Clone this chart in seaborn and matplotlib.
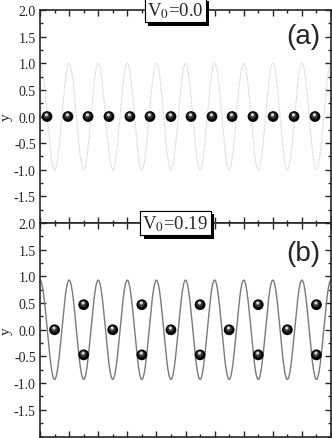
import numpy as np
import pandas as pd
import matplotlib
matplotlib.use("Agg")
import matplotlib.pyplot as plt
import matplotlib.patheffects as pe
from matplotlib.ticker import MultipleLocator, FixedLocator
import seaborn as sns

# potential curves: V(x) = A cos(2 pi x), x in lattice periods
period_count = 10
amp_a = 1.0
amp_b = 0.93

# particle positions, panel (a)
xa = [0.24, 0.96, 1.65, 2.37, 3.09, 3.78, 4.50, 5.19, 5.91, 6.60, 7.32, 8.01, 8.73, 9.45]
ya = [0.0] * len(xa)

# particle positions, panel (b)
xb = [0.5, 1.5, 1.5, 2.5, 3.5, 3.5, 4.5, 5.5, 5.5, 6.5, 7.5, 7.5, 8.5, 9.5, 9.5]
yb = [0.0, 0.47, -0.47, 0.0, 0.47, -0.47, 0.0, 0.47, -0.47, 0.0, 0.47, -0.47, 0.0, 0.47, -0.47]

labels = [r"V$_{\mathrm{0}}$=0.0", r"V$_{\mathrm{0}}$=0.19"]
panel_tags = ["(a)", "(b)"]
ytick_vals = [-1.5, -1.0, -0.5, 0.0, 0.5, 1.0, 1.5, 2.0]
ytick_labels = ["-1.5", "-1.0", "-0.5", "0.0", "0.5", "1.0", "1.5", "2.0"]

sns.set_style("ticks")
plt.rcParams["font.family"] = ["Liberation Serif", "DejaVu Serif"]
plt.rcParams["mathtext.fontset"] = "stix"

fig = plt.figure(figsize=(3.32, 4.39), dpi=100)
ax_a = fig.add_axes([0.1205, 0.4897, 0.8765, 0.4852])
ax_b = fig.add_axes([0.1205, 0.0034, 0.8765, 0.4863])

xc = np.linspace(0, period_count, 2000)
curve_a = pd.DataFrame({"x": xc, "y": amp_a * np.cos(2 * np.pi * xc)})
curve_b = pd.DataFrame({"x": xc, "y": amp_b * np.cos(2 * np.pi * xc)})

sns.lineplot(data=curve_a, x="x", y="y", ax=ax_a, color="#c4cccc", lw=0.8,
             linestyle=(0, (1, 1)))
sns.lineplot(data=curve_b, x="x", y="y", ax=ax_b, color="#7a7a7a", lw=1.0)


def draw_balls(ax, xs, ys):
    pts = pd.DataFrame({"x": xs, "y": ys})
    sns.scatterplot(data=pts, x="x", y="y", ax=ax, s=60, color="black",
                    edgecolor="none", zorder=5)
    # soft shading for a sphere look
    off = matplotlib.transforms.offset_copy(ax.transData, fig=fig, x=-0.3, y=0.6, units="points")
    ax.scatter(xs, ys, s=22, color="#3a3a3a", edgecolor="none", zorder=6, transform=off)
    off2 = matplotlib.transforms.offset_copy(ax.transData, fig=fig, x=-0.4, y=1.2, units="points")
    ax.scatter(xs, ys, s=5, color="#d8d8d8", edgecolor="none", zorder=7, transform=off2)


draw_balls(ax_a, xa, ya)
draw_balls(ax_b, xb, yb)

for ax, lab, tag, ty in zip([ax_a, ax_b], labels, panel_tags, [0.88, 0.86]):
    ax.set_xlim(0, period_count)
    ax.set_ylim(-2, 2)
    ax.set_xlabel("")
    ax.set_ylabel("y", fontsize=11)
    ax.yaxis.set_label_coords(-0.093, 0.5)
    ax.xaxis.set_major_locator(MultipleLocator(1))
    ax.xaxis.set_minor_locator(MultipleLocator(0.5))
    ax.set_xticklabels([])
    ax.yaxis.set_major_locator(FixedLocator(ytick_vals))
    ax.set_yticklabels(ytick_labels)
    ax.yaxis.set_minor_locator(MultipleLocator(0.25))
    ax.tick_params(which="both", direction="in", top=True, right=True,
                   width=1, labelsize=10, pad=3)
    ax.tick_params(which="major", length=4)
    ax.tick_params(which="minor", length=2)
    for s in ax.spines.values():
        s.set_linewidth(1.2)
        s.set_visible(True)
    ax.text(0.905, ty, tag, transform=ax.transAxes, ha="center", va="center",
            fontsize=20, family="Liberation Sans")
    t = ax.text(0.465, 1.0, lab, transform=ax.transAxes, ha="center", va="center",
                fontsize=13.5, zorder=10,
                bbox=dict(boxstyle="square,pad=0.12", fc="white", ec="black", lw=0.8))
    t.get_bbox_patch().set_path_effects([
        pe.withSimplePatchShadow(offset=(2.5, -2.5), shadow_rgbFace="black", alpha=1.0),
        pe.Normal()])

fig.savefig("out.png", dpi=100)
